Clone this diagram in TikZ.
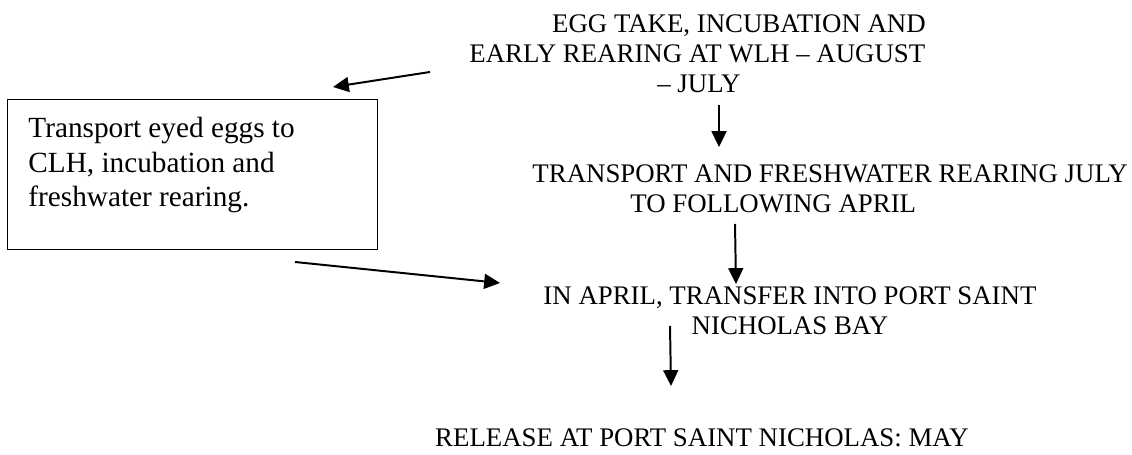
\documentclass[tikz,border=0pt]{standalone}
\usepackage{fontspec}
\setmainfont{Liberation Serif}
\usetikzlibrary{arrows.meta}

\tikzset{
  stage/.style={inner sep=0pt, font=\fontsize{12.2}{13.8}\selectfont},
  boxtext/.style={inner sep=0pt, align=left, font=\fontsize{13.3}{15.9}\selectfont},
  arr/.style={line width=0.9pt, -{Triangle[length=7.2pt,width=6.8pt]}},
}

\begin{document}
\begin{tikzpicture}[x=0.4545pt, y=-0.4545pt]
    \useasboundingbox (0,0) rectangle (1132,455);
    % stages (base = last line)
    \node[stage, align=left, anchor=base west] (egg) at (469,93)
        {\hspace*{37.6pt}EGG TAKE, INCUBATION AND\\
         EARLY REARING AT WLH – AUGUST\\
         \hspace*{85.4pt}– JULY};
    \node[stage, align=left, anchor=base west] (fresh) at (532,213)
        {TRANSPORT AND FRESHWATER REARING JULY\\
         \hspace*{44.5pt}TO FOLLOWING APRIL};
    \node[stage, align=center, anchor=base] (bay) at (790,335)
        {IN APRIL, TRANSFER INTO PORT SAINT\\ NICHOLAS BAY};
    \node[stage, anchor=base] (release) at (702,447)
        {RELEASE AT PORT SAINT NICHOLAS: MAY};
    % side box
    \node[draw, line width=0.6pt, inner sep=0pt, anchor=north west,
          minimum width=168.2pt, minimum height=68.2pt] (box) at (7,99) {};
    \node[boxtext, anchor=base west] (eyed) at (28,207)
        {Transport eyed eggs to\\ CLH, incubation and\\ freshwater rearing.};
    % arrow ends
    \coordinate (a1) at (430,72);   \coordinate (a2) at (333,87);
    \coordinate (b1) at (719,105);  \coordinate (b2) at (719,147);
    \coordinate (c1) at (295,262);  \coordinate (c2) at (500,283);
    \coordinate (d1) at (735,224);  \coordinate (d2) at (736,284);
    \coordinate (e1) at (670,326);  \coordinate (e2) at (671,386);
    \draw[arr] (a1) -- (a2);
    \draw[arr] (b1) -- (b2);
    \draw[arr] (c1) -- (c2);
    \draw[arr] (d1) -- (d2);
    \draw[arr] (e1) -- (e2);
\end{tikzpicture}
\end{document}
